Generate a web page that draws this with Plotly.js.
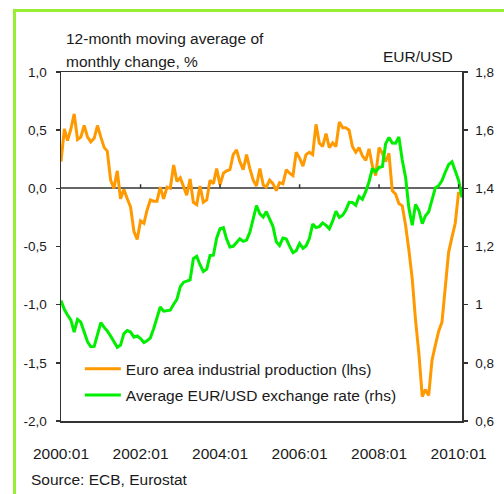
<!DOCTYPE html>
<html><head><meta charset="utf-8">
<script src="https://cdn.plot.ly/plotly-3.0.1.min.js"></script>
<style>
html,body{margin:0;padding:0;background:#fff;}
#wrap{position:relative;width:504px;height:494px;overflow:hidden;}
#chart{position:absolute;left:0;top:0;width:504px;height:494px;}
#frame{position:absolute;left:13px;top:9px;width:700px;height:700px;border-left:3px solid #99ee33;border-top:3px solid #99ee33;pointer-events:none;}
</style></head>
<body><div id="wrap"><div id="chart"></div><div id="frame"></div></div>
<script>
const months = [
"2000-01","2000-02","2000-03","2000-04","2000-05","2000-06","2000-07","2000-08","2000-09","2000-10","2000-11","2000-12",
"2001-01","2001-02","2001-03","2001-04","2001-05","2001-06","2001-07","2001-08","2001-09","2001-10","2001-11","2001-12",
"2002-01","2002-02","2002-03","2002-04","2002-05","2002-06","2002-07","2002-08","2002-09","2002-10","2002-11","2002-12",
"2003-01","2003-02","2003-03","2003-04","2003-05","2003-06","2003-07","2003-08","2003-09","2003-10","2003-11","2003-12",
"2004-01","2004-02","2004-03","2004-04","2004-05","2004-06","2004-07","2004-08","2004-09","2004-10","2004-11","2004-12",
"2005-01","2005-02","2005-03","2005-04","2005-05","2005-06","2005-07","2005-08","2005-09","2005-10","2005-11","2005-12",
"2006-01","2006-02","2006-03","2006-04","2006-05","2006-06","2006-07","2006-08","2006-09","2006-10","2006-11","2006-12",
"2007-01","2007-02","2007-03","2007-04","2007-05","2007-06","2007-07","2007-08","2007-09","2007-10","2007-11","2007-12",
"2008-01","2008-02","2008-03","2008-04","2008-05","2008-06","2008-07","2008-08","2008-09","2008-10","2008-11","2008-12",
"2009-01","2009-02","2009-03","2009-04","2009-05","2009-06","2009-07","2009-08","2009-09","2009-10","2009-11","2009-12",
"2010-01","2010-02"];

// Euro area industrial production, 12-month moving average of monthly change, % (lhs)
const industrialProduction = [
0.23,0.51,0.41,0.51,0.64,0.42,0.44,0.54,0.44,0.40,0.43,0.54,
0.44,0.35,0.32,0.07,0.00,0.15,-0.09,-0.01,-0.09,-0.16,-0.37,-0.44,
-0.28,-0.30,-0.19,-0.10,-0.11,-0.11,0.01,-0.09,0.01,0.00,0.20,0.06,
0.09,0.01,-0.06,0.08,-0.12,-0.14,0.02,-0.12,-0.10,0.07,0.04,0.17,
0.03,0.13,0.15,0.16,0.29,0.33,0.23,0.16,0.29,0.17,0.07,0.02,
0.17,0.03,0.01,0.07,0.04,-0.02,0.05,0.04,0.16,0.13,0.11,0.31,
0.26,0.19,0.29,0.31,0.29,0.55,0.39,0.36,0.47,0.35,0.39,0.36,
0.57,0.52,0.52,0.50,0.36,0.31,0.35,0.28,0.24,0.34,0.19,0.11,
0.35,0.30,0.23,0.30,-0.02,-0.05,-0.13,-0.15,-0.32,-0.53,-0.78,-1.13,
-1.42,-1.79,-1.73,-1.78,-1.48,-1.35,-1.23,-1.15,-0.85,-0.55,-0.42,-0.30,
-0.03];

// Average EUR/USD exchange rate (rhs)
const eurUsd = [
1.0139,0.9834,0.9643,0.9470,0.9060,0.9492,0.9397,0.9041,0.8721,0.8552,0.8564,0.8973,
0.9383,0.9217,0.9095,0.8920,0.8742,0.8532,0.8607,0.9005,0.9111,0.9059,0.8883,0.8924,
0.8833,0.8700,0.8758,0.8858,0.9170,0.9554,0.9922,0.9778,0.9808,0.9811,1.0014,1.0183,
1.0622,1.0773,1.0807,1.0848,1.1582,1.1663,1.1372,1.1139,1.1222,1.1692,1.1702,1.2286,
1.2613,1.2646,1.2262,1.1985,1.2007,1.2138,1.2266,1.2176,1.2218,1.2490,1.2991,1.3408,
1.3119,1.3014,1.3201,1.2938,1.2694,1.2165,1.2037,1.2292,1.2256,1.2015,1.1786,1.1856,
1.2103,1.1938,1.2020,1.2271,1.2770,1.2650,1.2684,1.2811,1.2727,1.2611,1.2881,1.3213,
1.2999,1.3074,1.3242,1.3516,1.3511,1.3419,1.3716,1.3622,1.3896,1.4227,1.4684,1.4570,
1.4718,1.4748,1.5527,1.5751,1.5557,1.5553,1.5770,1.4975,1.4370,1.3322,1.2732,1.3449,
1.3239,1.2785,1.3050,1.3190,1.3650,1.4016,1.4088,1.4268,1.4562,1.4816,1.4914,1.4614,
1.4272,1.3686];

const xTickDates = ["2000-01-01","2002-01-01","2004-01-01","2006-01-01","2008-01-01","2010-01-01"];
const xTickLabels = ["2000:01","2002:01","2004:01","2006:01","2008:01","2010:01"];
const leftTickVals = [-2,-1.5,-1,-0.5,0,0.5,1];
const leftTickLabels = ["-2,0","-1,5","-1,0","-0,5","0,0","0,5","1,0"];
const rightTickVals = [0.6,0.8,1.0,1.2,1.4,1.6,1.8];
const rightTickLabels = ["0,6","0,8","1","1,2","1,4","1,6","1,8"];

function hasFont(name){
  const c=document.createElement('canvas').getContext('2d');
  const s='2000:01 Euro area industrial production (lhs)';
  c.font='40px monospace'; const a=c.measureText(s).width;
  c.font='40px "'+name+'", monospace'; const b=c.measureText(s).width;
  return Math.abs(a-b)>1;
}
const narrow = hasFont('Liberation Sans Narrow');
const BIGFONT = narrow ? '"Liberation Sans Narrow", "Liberation Sans", Arial, sans-serif' : '"Liberation Sans", Arial, sans-serif';
const BIG = narrow ? 18 : 15.5;
const SMALLFONT = '"Liberation Sans", Arial, sans-serif';
const TXT = '#1a1a1a';
const AX = '#333333';

const traces = [
  {x: months.slice(0, industrialProduction.length), y: industrialProduction, type:'scatter', mode:'lines',
   name:'Euro area industrial production (lhs)', line:{color:'#ff9900', width:3}, yaxis:'y', legendgroup:'a'},
  {x: months, y: eurUsd, type:'scatter', mode:'lines',
   name:'Average EUR/USD exchange rate (rhs)', line:{color:'#00ee00', width:3}, yaxis:'y2', legendgroup:'b'}
];

// small tick marks sitting on the zero line
const zeroTicks = xTickDates.slice(1).map(d => ({type:'line', xref:'x', yref:'y', x0:d, x1:d, y0:0, y1:0.035,
  line:{color:AX, width:1.5}}));

const layout = {
  width:504, height:494,
  margin:{l:61, r:42, t:72, b:73},
  paper_bgcolor:'rgba(0,0,0,0)', plot_bgcolor:'rgba(0,0,0,0)',
  showlegend:true,
  legend:{x:0.047, y:0.197, xanchor:'left', yanchor:'top', bgcolor:'rgba(0,0,0,0)',
    font:{family:BIGFONT, size:BIG, color:TXT}, traceorder:'grouped', tracegroupgap:3, itemwidth:36},
  xaxis:{type:'date', range:['2000-01-01','2010-02-01'], tickvals:xTickDates, ticktext:xTickLabels,
    ticks:'', showgrid:false, zeroline:false, showline:true, linecolor:AX, linewidth:1.5, mirror:true,
    tickfont:{family:BIGFONT, size:BIG, color:TXT}, ticklabelstandoff:18},
  yaxis:{range:[-2,1], tickvals:leftTickVals, ticktext:leftTickLabels, ticks:'outside', ticklen:4,
    tickcolor:AX, tickwidth:1.5, showgrid:false, showline:true, linecolor:AX, linewidth:1.5,
    zeroline:true, zerolinecolor:'#666666', zerolinewidth:2,
    tickfont:{family:SMALLFONT, size:13.5, color:TXT}, ticklabelstandoff:6},
  yaxis2:{range:[0.6,1.8], overlaying:'y', side:'right', tickvals:rightTickVals, ticktext:rightTickLabels,
    ticks:'outside', ticklen:4, tickcolor:AX, tickwidth:1.5, showgrid:false, showline:true, linecolor:AX,
    linewidth:1.5, zeroline:false, tickfont:{family:SMALLFONT, size:13.5, color:TXT}, ticklabelstandoff:5},
  shapes: zeroTicks,
  annotations:[
    {text:'12-month moving average of', xref:'paper', yref:'paper', x:0.0075, y:1.0974, xanchor:'left', yanchor:'middle',
     showarrow:false, font:{family:BIGFONT, size:BIG, color:TXT}},
    {text:'monthly change, %', xref:'paper', yref:'paper', x:0.0075, y:1.0295, xanchor:'left', yanchor:'middle',
     showarrow:false, font:{family:BIGFONT, size:BIG, color:TXT}},
    {text:'EUR/USD', xref:'paper', yref:'paper', x:0.9825, y:1.0438, xanchor:'right', yanchor:'middle',
     showarrow:false, font:{family:BIGFONT, size:BIG, color:TXT}},
    {text:'Source: ECB, Eurostat', xref:'paper', yref:'paper', x:-0.0798, y:-0.168, xanchor:'left', yanchor:'middle',
     showarrow:false, font:{family:BIGFONT, size:BIG, color:TXT}}
  ]
};

Plotly.newPlot('chart', traces, layout, {displayModeBar:false, staticPlot:true});
</script>
</body></html>
